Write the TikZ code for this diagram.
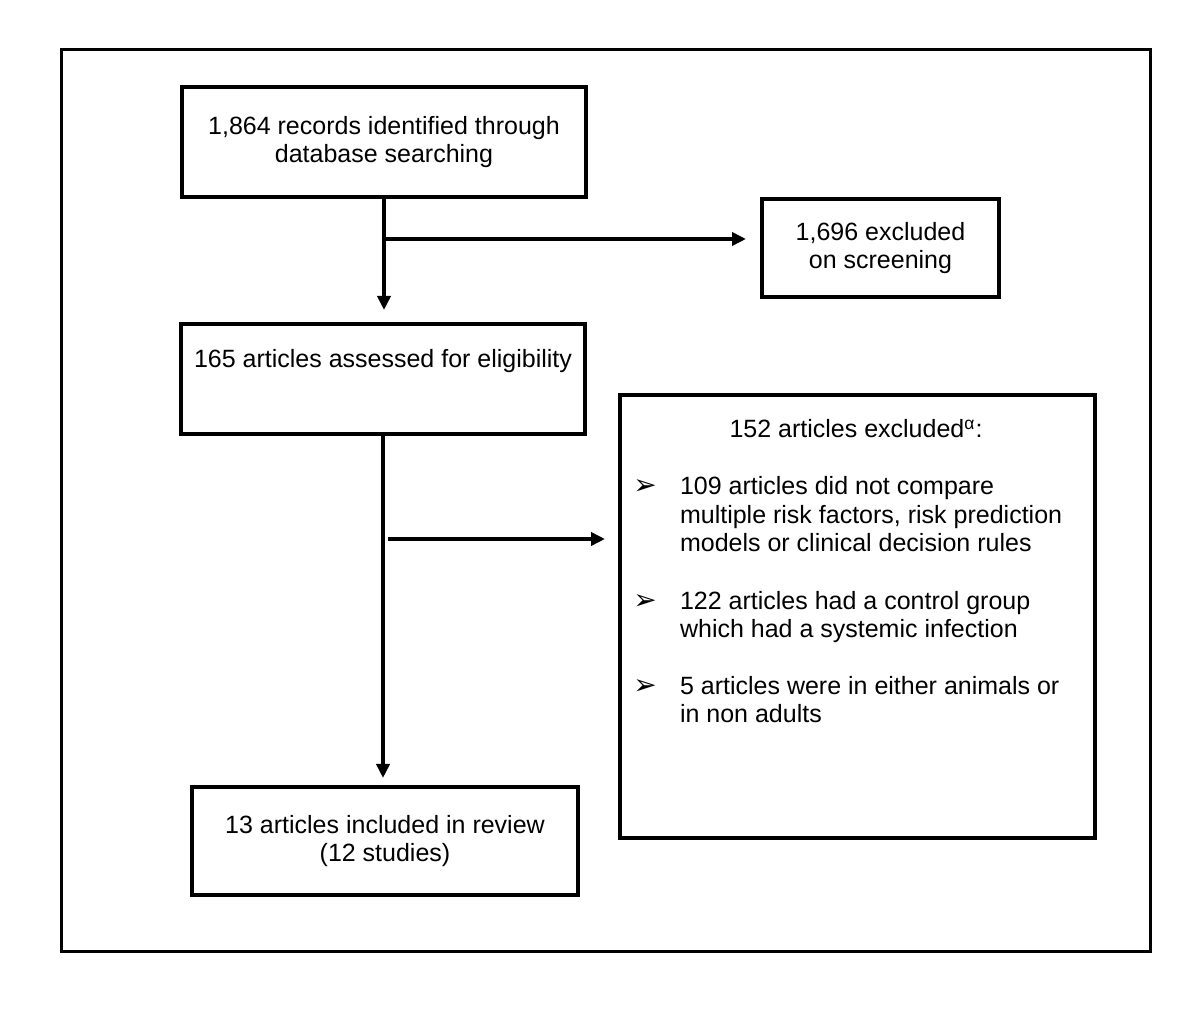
\documentclass[tikz,border=0pt]{standalone}
\usepackage{fontspec}
\setmainfont{Liberation Sans}
\newfontfamily\dingfont{DejaVu Sans}
\usetikzlibrary{arrows.meta}

\begin{document}
\begin{tikzpicture}[x=0.5pt, y=-0.5pt,
  font=\fontsize{12.5}{14.25}\selectfont,
  flowbox/.style={draw, line width=2pt, inner sep=0pt, align=center},
  flowarrow/.style={line width=2pt, -{Triangle[length=7pt, width=6.5pt]}},
  bulletmark/.style={inner sep=0pt, font=\dingfont\fontsize{14}{14}\selectfont}]
  \useasboundingbox (0,0) rectangle (1200,1031);
  \draw [ line width=1.5pt ] (61,50) rectangle (1150,951);

  \node [ flowbox, minimum width=202pt, minimum height=55pt ] (records) at (384,142)
    { 1,864 records identified through\\ database searching };
  \node [ flowbox, minimum width=118.5pt, minimum height=49pt ] (screened) at (880.5,248)
    { 1,696 excluded\\ on screening };
  \node [ flowbox, minimum width=202pt, minimum height=55pt ] (assessed) at (383,379) {};
  \node [ anchor=base ] (assessedtext) at (383,368) { 165 articles assessed for eligibility };
  \node [ flowbox, minimum width=237.5pt, minimum height=221.5pt ] (excluded) at (857.5,616.5) {};
  \node [ flowbox, minimum width=193pt, minimum height=54pt ] (included) at (385,841)
    { 13 articles included in review\\ (12 studies) };

  \node [ anchor=base ] (excludedhead) at (856,438) { 152 articles excluded\textsuperscript{α}: };
  \node [ bulletmark ] (bulletA) at (645,487) { ➢ };
  \node [ anchor=base west, align=left ] (reasonA) at (673,552)
    { 109 articles did not compare\\ multiple risk factors, risk prediction\\ models or clinical decision rules };
  \node [ bulletmark ] (bulletB) at (645,602) { ➢ };
  \node [ anchor=base west, align=left ] (reasonB) at (673,638)
    { 122 articles had a control group\\ which had a systemic infection };
  \node [ bulletmark ] (bulletC) at (645,687) { ➢ };
  \node [ anchor=base west, align=left ] (reasonC) at (673,723)
    { 5 articles were in either animals or\\ in non adults };

  \coordinate (splitA) at ([yshift=-20pt]records.south);
  \coordinate (splitB) at ([xshift=2.5pt, yshift=-51.5pt]assessed.south);

  \draw [ flowarrow, shorten >=6pt ] (records.south) -- (records.south |- assessed.north);
  \draw [ flowarrow, shorten >=7pt ] (splitA) -- (splitA -| screened.west);
  \draw [ flowarrow, shorten >=3.5pt ] (assessed.south) -- (assessed.south |- included.north);
  \draw [ flowarrow, shorten >=6.5pt ] (splitB) -- (splitB -| excluded.west);
\end{tikzpicture}
\end{document}
